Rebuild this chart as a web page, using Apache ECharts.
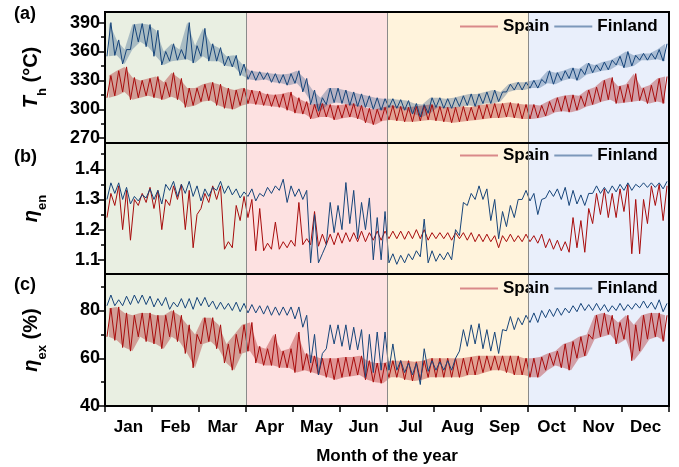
<!DOCTYPE html>
<html><head><meta charset="utf-8">
<script src="https://cdn.jsdelivr.net/npm/echarts@6/dist/echarts.min.js"></script>
<style>html,body{margin:0;padding:0;background:#fff}#c{width:679px;height:467px}</style>
</head><body><div id="c"></div>
<script>
// ---------- categories / ticks ----------
const months = ['Jan','Feb','Mar','Apr','May','Jun','Jul','Aug','Sep','Oct','Nov','Dec'];
const quarterBounds = [0, 3, 6, 9, 12];
const quarterColors = ['#e9efe2', '#fde1e1', '#fff3dc', '#e9effb'];
const periodsPerMonth = 6; // each value pair = low/high envelope of a ~5-day window
const thTicks = [270, 300, 330, 360, 390], thMinor = [285, 315, 345, 375];
const enTicks = [1.1, 1.2, 1.3, 1.4], enMinor = [1.15, 1.25, 1.35, 1.45];
const exTicks = [40, 60, 80], exMinor = [50, 70, 90];

// ---------- (a) Th (°C) ----------
const spainThLo = [312,314,318,310,312,314,312,310,313,310,302,304,
  308,309,304,301,300,304,306,305,304,303,302,299,
  296,295,290,292,292,289,291,292,290,286,284,288,
  289,288,287,287,288,289,288,287,286,287,288,289,
  290,291,291,292,291,290,290,291,293,297,298,297,
  299,303,305,308,310,306,307,308,309,306,308,306];
const spainThHi = [335,340,344,333,330,332,334,328,338,332,322,322,
  326,328,326,322,320,322,320,319,316,315,316,318,
  312,308,305,306,305,304,305,306,304,301,300,302,
  304,303,302,303,304,305,303,302,302,303,302,304,
  305,306,306,307,306,305,305,304,308,312,314,315,
  314,320,323,330,333,324,326,337,322,325,332,334];
const finThLo = [355,356,347,362,370,365,355,346,350,351,352,348,
  355,350,350,345,344,335,331,330,331,328,327,325,
  327,318,305,298,305,307,306,304,303,302,300,299,
  302,301,299,295,292,296,302,301,301,303,304,303,
  306,306,308,318,320,320,322,322,327,326,330,332,
  330,336,338,340,341,346,343,345,351,351,352,350];
const finThHi = [390,372,362,388,389,388,382,360,368,362,390,366,
  384,368,364,355,356,347,340,339,338,337,336,337,
  340,332,320,312,322,322,320,318,316,314,312,311,
  311,310,309,306,305,312,312,311,312,314,316,316,
  318,320,318,326,328,328,330,331,340,338,340,343,
  342,348,346,349,351,355,360,356,358,358,362,368];

// ---------- (b) eta_en ----------
const spainEnLo = [1.24,1.28,1.20,1.165,1.28,1.29,1.27,1.20,1.28,1.30,1.20,1.14,
  1.27,1.29,1.30,1.135,1.14,1.23,1.24,1.13,1.13,1.135,1.135,1.14,
  1.145,1.15,1.15,1.145,1.15,1.15,1.155,1.16,1.16,1.16,1.165,1.165,
  1.17,1.17,1.168,1.17,1.17,1.165,1.17,1.17,1.165,1.17,1.165,1.16,
  1.16,1.16,1.14,1.16,1.16,1.16,1.16,1.155,1.14,1.135,1.13,1.125,
  1.14,1.125,1.22,1.25,1.24,1.24,1.26,1.12,1.12,1.22,1.28,1.23];
const spainEnHi = [1.32,1.345,1.33,1.30,1.32,1.34,1.33,1.30,1.345,1.35,1.33,1.25,
  1.32,1.345,1.345,1.16,1.28,1.31,1.30,1.27,1.155,1.225,1.16,1.165,
  1.29,1.17,1.26,1.185,1.185,1.19,1.19,1.19,1.195,1.19,1.195,1.195,
  1.195,1.195,1.195,1.2,1.2,1.19,1.19,1.19,1.19,1.19,1.19,1.185,
  1.185,1.18,1.18,1.185,1.18,1.185,1.18,1.185,1.17,1.165,1.16,1.24,
  1.23,1.27,1.32,1.335,1.32,1.335,1.35,1.30,1.30,1.345,1.35,1.345];
const finEnLo = [1.30,1.32,1.30,1.285,1.295,1.305,1.30,1.285,1.33,1.31,1.32,1.31,
  1.295,1.31,1.33,1.32,1.315,1.305,1.31,1.295,1.31,1.32,1.33,1.29,
  1.31,1.30,1.09,1.09,1.15,1.19,1.20,1.22,1.17,1.20,1.10,1.10,
  1.09,1.085,1.09,1.10,1.11,1.09,1.095,1.10,1.10,1.18,1.28,1.30,
  1.30,1.23,1.17,1.21,1.24,1.30,1.295,1.25,1.305,1.31,1.30,1.28,
  1.285,1.28,1.32,1.32,1.32,1.325,1.33,1.33,1.34,1.34,1.34,1.335];
const finEnHi = [1.355,1.355,1.34,1.31,1.315,1.335,1.33,1.35,1.36,1.35,1.36,1.345,
  1.335,1.34,1.36,1.345,1.335,1.325,1.335,1.32,1.34,1.345,1.367,1.345,
  1.335,1.33,1.25,1.12,1.29,1.28,1.356,1.33,1.29,1.305,1.24,1.26,
  1.12,1.115,1.12,1.13,1.235,1.13,1.12,1.125,1.20,1.29,1.32,1.345,
  1.335,1.30,1.26,1.28,1.30,1.33,1.32,1.30,1.33,1.335,1.34,1.33,
  1.315,1.32,1.345,1.34,1.345,1.35,1.355,1.35,1.355,1.355,1.355,1.36];

// ---------- (c) eta_ex (%) ----------
const spainExLo = [69,67.5,64.5,63,69,67,66,64,69,67,62,56,
  66,67,64,58,55,62,63,58,57,57,56,56,
  54,55,54,53,52,51,52,52.5,53,51,50,49.5,
  52,52,51,50.5,51,52,52,52,52,52,53,53,
  54,55,55,54,53,53,52,52,55,57,56,55,
  60,61,68,69,70,66,68,59,63,68,69,67];
const spainExHi = [81,81.5,79,78,79,79,78,78,80,78,74,70,
  77,77,74,66,70,74,75,65,64,70,63,64,
  71,62,61,60,60,60,60.5,60.5,61,59,58,58,
  59,59,59,58.5,59,60,60,60,60,60,60.5,61,
  61,61,61,61,61,60,60,60.5,62,63,66,67,
  69,70,78,79,78,75,78,74,78,79,79,78];
const finExLo = [82,82,82,82.5,83,82.5,81.5,82,80.5,81.5,81,80.5,
  82,81.5,80.5,80.5,80,79.5,79,79,78.5,78,78,78,
  76.5,73,58,53,64,66,65,63.5,63.5,52,54,55,
  55,55,54,53,49,54.5,55,55,55,63,65,66,
  64,63,62,71.5,72,74,75,75,77,77.5,78,79,
  79.5,80,80,80,79.5,80,80,80.5,81,81,80.5,79.5];
const finExHi = [86.5,84.5,86,86.5,86.5,86,85,85.5,83.5,85,85,85.5,
  85.5,84,83.5,83,83.5,83,82.5,82,82,81.5,81.5,81.5,
  81.5,78,70,62,74,74,74,73,72,70,71,71,
  66,59,58,58,64,59,58.5,59,60,72,74,74.5,
  72,71,72,77.5,77,78,79,80,80.5,81,81,82,
  83,82.5,83,82.5,82,83,82.5,83,84,83.5,84.5,83];

// ---------- build ----------
const FONT = 'Liberation Sans, Arial, sans-serif';
const RED = '#a80c0c', BLUE = '#17457a';

function xOf(k, f) { return (k + f) / periodsPerMonth; }
function zig(lo, hi) {
  const out = [];
  for (let k = 0; k < lo.length; k++) {
    out.push([xOf(k, 0.25), lo[k]]);
    out.push([xOf(k, 0.75), hi[k]]);
  }
  return out;
}

const grids = [
  {left: 105, right: 10, top: 12, height: 131},
  {left: 105, right: 10, top: 143, height: 131},
  {left: 105, right: 10, top: 274, height: 132}
].map(g => Object.assign(g, {show: true, z: 10, backgroundColor: 'transparent', borderColor: '#000', borderWidth: 2}));

const valX = i => ({type: 'value', gridIndex: i, min: 0, max: 12, show: false, position: i === 2 ? 'top' : 'bottom', splitLine: {show: false}});
const xAxes = [valX(0), valX(1), valX(2), {
  type: 'category', gridIndex: 2, data: months, position: 'bottom', boundaryGap: true,
  axisLine: {show: true, lineStyle: {color: '#000', width: 2}},
  axisTick: {show: true, length: 6, alignWithLabel: false, lineStyle: {color: '#000', width: 1.5}},
  axisLabel: {fontSize: 17, fontWeight: 'bold', color: '#000', fontFamily: FONT, margin: 13},
  splitLine: {show: false},
  name: 'Month of the year', nameLocation: 'middle', nameGap: 42,
  nameTextStyle: {fontSize: 17, fontWeight: 'bold', color: '#000', fontFamily: FONT}
}];

function richName() {
  return {
    i: {fontStyle: 'italic', fontWeight: 'bold', fontSize: 20, fontFamily: FONT, color: '#000', lineHeight: 28, verticalAlign: 'top'},
    n: {fontWeight: 'bold', fontSize: 20, fontFamily: FONT, color: '#000', lineHeight: 28, verticalAlign: 'top'},
    s: {fontWeight: 'bold', fontSize: 13, fontFamily: FONT, color: '#000', lineHeight: 14, verticalAlign: 'bottom'}
  };
}
function yPair(i, min, max, ticks, minor, name) {
  return [{
    type: 'value', gridIndex: i, min: min, max: max, position: 'left',
    axisLine: {show: true, lineStyle: {color: '#000', width: 2}},
    axisTick: {show: true, customValues: ticks, length: 7, lineStyle: {color: '#000', width: 1.5}},
    axisLabel: {customValues: ticks, fontSize: 18, fontWeight: 'bold', color: '#000', fontFamily: FONT, margin: 5},
    splitLine: {show: false},
    name: name, nameLocation: 'middle', nameGap: 56, nameRotate: 90,
    nameTextStyle: {rich: richName()}
  }, {
    type: 'value', gridIndex: i, min: min, max: max, position: 'left',
    axisLine: {show: false},
    axisTick: {show: true, customValues: minor, length: 4, lineStyle: {color: '#000', width: 1.5}},
    axisLabel: {show: false}, splitLine: {show: false}
  }];
}
const yAxes = [].concat(
  yPair(0, 265, 401, thTicks, thMinor, '{i|T}{s|h}{n| (°C)}'),
  yPair(1, 1.053, 1.487, enTicks, enMinor, '{i|η}{s|en}'),
  yPair(2, 40, 95.3, exTicks, exMinor, '{i|η}{s|ex}{n| (%)}')
);

function bands() {
  const d = [];
  for (let q = 0; q < 4; q++) d.push([{xAxis: quarterBounds[q], itemStyle: {color: quarterColors[q]}}, {xAxis: quarterBounds[q + 1]}]);
  return {silent: true, data: d};
}
function dividers() {
  return {silent: true, symbol: ['none', 'none'], label: {show: false},
    lineStyle: {color: '#8a8a8a', width: 1, type: 'solid'},
    data: quarterBounds.slice(1, 4).map(v => ({xAxis: v}))};
}

// band fill opacity per panel: [Spain, Finland]
const bandOpacity = [[0.35, 0.3], [0, 0], [0.35, 0]];
const panels = [[spainThLo, spainThHi, finThLo, finThHi], [spainEnLo, spainEnHi, finEnLo, finEnHi], [spainExLo, spainExHi, finExLo, finExHi]];
const series = [];
function envelope(name, i, lo, hi, color, withMarks, op) {
  // translucent low/high envelope drawn through the axes' scales
  const band = {
    name: name, type: 'custom', xAxisIndex: i, yAxisIndex: i * 2, silent: true,
    data: lo.map((v, k) => [xOf(k, 0.5), v, hi[k]]),
    encode: {x: 0, y: [1, 2]},
    itemStyle: {color: color},
    renderItem: function (params, api) {
      if (params.dataIndex !== 0 || op === 0) return null;
      const pts = [];
      for (let k = 0; k < lo.length; k++) pts.push(api.coord([xOf(k, 0.5), hi[k]]));
      for (let k = lo.length - 1; k >= 0; k--) pts.push(api.coord([xOf(k, 0.5), lo[k]]));
      return {type: 'polygon', shape: {points: pts}, style: {fill: color, opacity: op}};
    }
  };
  if (withMarks) { band.markArea = bands(); band.markLine = dividers(); }
  series.push(band);
  series.push({name: name, type: 'line', xAxisIndex: i, yAxisIndex: i * 2, data: zig(lo, hi),
    symbol: 'none', lineStyle: {color: color, width: 1}, itemStyle: {color: color}});
}
panels.forEach((p, i) => {
  envelope('Spain', i, p[0], p[1], RED, true, bandOpacity[i][0]);
  envelope('Finland', i, p[2], p[3], BLUE, false, bandOpacity[i][1]);
});

const legendTops = [18, 147, 280];
const legends = legendTops.map(t => ({
  left: 460, top: t, itemWidth: 38, itemHeight: 2, itemGap: 5, padding: 0, icon: 'rect',
  textStyle: {fontSize: 17, fontWeight: 'bold', color: '#000', fontFamily: FONT},
  data: [
    {name: 'Spain', itemStyle: {color: '#d98989'}},
    {name: 'Finland', itemStyle: {color: '#7c98ba'}}
  ]
}));

const chart = echarts.init(document.getElementById('c'), null, {renderer: 'canvas'});
chart.setOption({
  animation: false,
  backgroundColor: '#fff',
  grid: grids, xAxis: xAxes, yAxis: yAxes, legend: legends, series: series,
  graphic: [
    {type: 'text', left: 14, top: 5, style: {text: '(a)', font: 'bold 18px ' + FONT, fill: '#000'}},
    {type: 'text', left: 14, top: 148, style: {text: '(b)', font: 'bold 18px ' + FONT, fill: '#000'}},
    {type: 'text', left: 14, top: 276, style: {text: '(c)', font: 'bold 18px ' + FONT, fill: '#000'}}
  ]
});
</script></body></html>
